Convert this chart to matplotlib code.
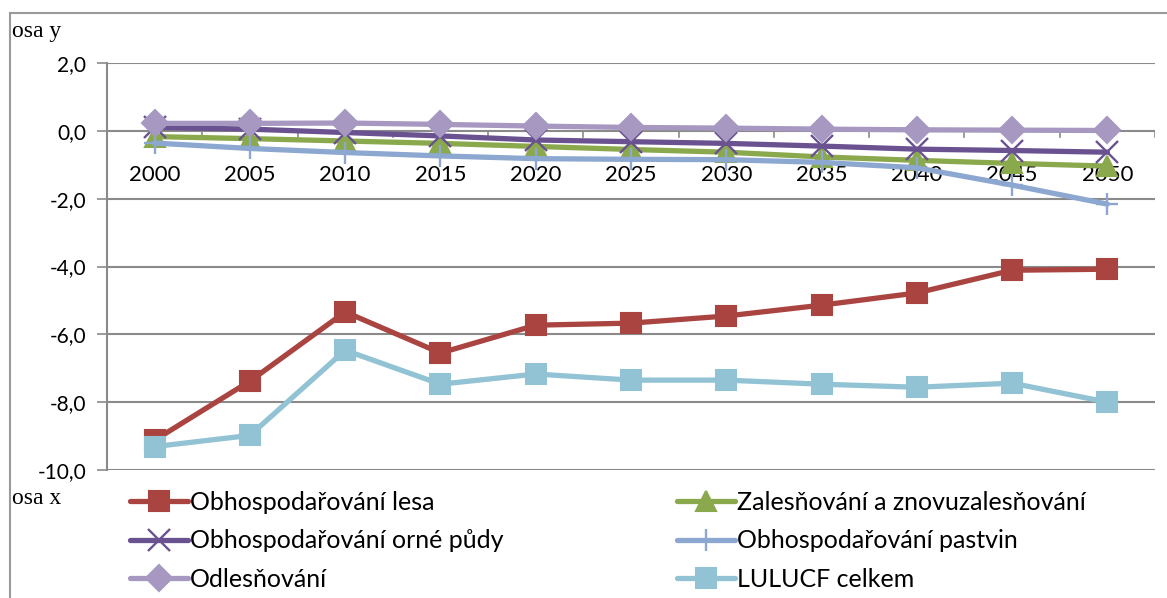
import matplotlib
matplotlib.use("Agg")
import matplotlib.pyplot as plt
from matplotlib.patches import Rectangle

# data
years = ["2000", "2005", "2010", "2015", "2020", "2025", "2030", "2035", "2040", "2045", "2050"]
les = [-9.12, -7.38, -5.34, -6.55, -5.73, -5.67, -5.46, -5.14, -4.78, -4.11, -4.08]
zalesnovani = [-0.17, -0.23, -0.30, -0.37, -0.46, -0.55, -0.63, -0.77, -0.87, -0.96, -1.04]
orna_puda = [0.10, 0.05, -0.05, -0.15, -0.27, -0.32, -0.37, -0.45, -0.54, -0.58, -0.63]
pastviny = [-0.36, -0.52, -0.64, -0.74, -0.82, -0.84, -0.85, -0.93, -1.09, -1.60, -2.16]
odlesnovani = [0.22, 0.22, 0.23, 0.19, 0.14, 0.10, 0.08, 0.05, 0.03, 0.02, 0.01]
lulucf = [-9.31, -8.98, -6.47, -7.47, -7.17, -7.35, -7.35, -7.47, -7.56, -7.44, -8.00]
yticks = [2, 0, -2, -4, -6, -8, -10]

series = [
    ("Obhospodařování lesa", les, "#AA4441", "s"),
    ("Zalesňování a znovuzalesňování", zalesnovani, "#8AA84C", "^"),
    ("Obhospodařování orné půdy", orna_puda, "#6A5291", "x"),
    ("Obhospodařování pastvin", pastviny, "#8CA7D0", "+"),
    ("Odlesňování", odlesnovani, "#A698C0", "D"),
    ("LULUCF celkem", lulucf, "#92C3D4", "s"),
]

sans = ["Lato", "DejaVu Sans"]
grid_col = "#8a8a8a"

fig = plt.figure(figsize=(11.67, 5.98), dpi=100)
fig.patches.append(Rectangle((10 / 1167, -0.1), 1.2, 1 - 13 / 598 + 0.1, transform=fig.transFigure,
                             fill=False, edgecolor="#9a9a9a", linewidth=1.5))

ax = fig.add_axes([107 / 1167, 1 - 470 / 598, (1155 - 107) / 1167, (470 - 63) / 598])
x = list(range(len(years)))

handles = {}
for name, vals, col, mk in series:
    ms = 14
    mew = 1.5
    if mk == "^":
        ms = 15
    if mk == "D":
        ms = 13
    if mk in ("x", "+"):
        ms = 16
        mew = 1.7
    h, = ax.plot(x, vals, color=col, linewidth=3.8, marker=mk, markersize=ms,
                 markerfacecolor=col, markeredgecolor=col, markeredgewidth=mew,
                 solid_capstyle="round", solid_joinstyle="round")
    handles[name] = h

ax.set_xlim(-0.5, len(years) - 0.5)
ax.set_ylim(-10, 2)
ax.set_yticks(yticks)
ax.set_yticklabels([("%.1f" % v).replace(".", ",") for v in yticks], fontfamily=sans, fontsize=15)
ax.tick_params(axis="y", length=7, width=1.2, color=grid_col, pad=8)
ax.set_xticks([])
for sp in ["top", "right", "bottom"]:
    ax.spines[sp].set_visible(False)
ax.spines["left"].set_color(grid_col)
ax.spines["left"].set_linewidth(1.5)
for v in yticks:
    ax.axhline(v, color=grid_col, linewidth=1.5, zorder=0.5)

# category axis crossing at zero with tick marks between categories
for k in range(len(years) + 1):
    ax.plot([k - 0.5, k - 0.5], [0, -0.17], color=grid_col, linewidth=1.2, zorder=0.6)
for k, yr in enumerate(years):
    ax.text(k, -1.3, yr, ha="center", va="center", fontsize=16, fontfamily=sans, zorder=1)

fig.text(12 / 1167, 1 - 32 / 598, "osa y", fontfamily="Liberation Serif", fontsize=17, va="center")
fig.text(12 / 1167, 1 - 498 / 598, "osa x", fontfamily="Liberation Serif", fontsize=17, va="center")

left_names = ["Obhospodařování lesa", "Obhospodařování orné půdy", "Odlesňování"]
right_names = ["Zalesňování a znovuzalesňování", "Obhospodařování pastvin", "LULUCF celkem"]
for names, xpos in [(left_names, 130), (right_names, 677)]:
    fig.legend([handles[n] for n in names], names, loc="upper left",
               bbox_to_anchor=(xpos / 1167, 1 - 491 / 598), frameon=False,
               prop={"family": sans, "size": 18}, handlelength=2.3, handletextpad=0.1,
               labelspacing=0.62, borderaxespad=0, borderpad=0, numpoints=1)

fig.savefig("out.png", dpi=100)
